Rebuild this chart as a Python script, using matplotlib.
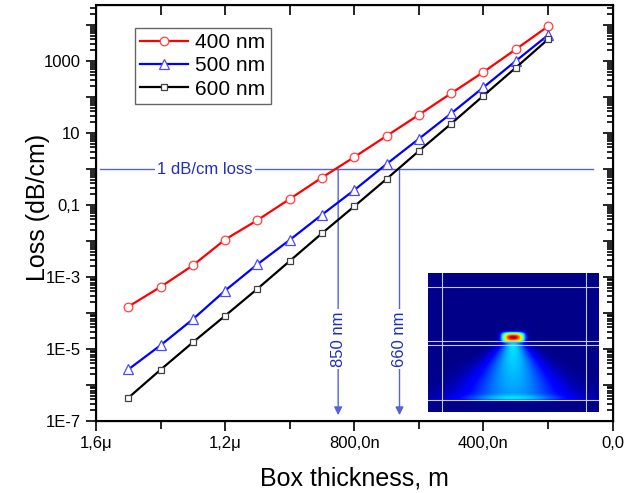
import numpy as np
import matplotlib
matplotlib.use('Agg')
import matplotlib.pyplot as plt
from matplotlib.ticker import FixedLocator, FixedFormatter, LogLocator, NullFormatter, FuncFormatter

plt.rcParams['font.family'] = ['Liberation Sans', 'DejaVu Sans']

# box thickness in nm
thickness = [1500, 1400, 1300, 1200, 1100, 1000, 900, 800, 700, 600, 500, 400, 300, 200]

loss_400 = [1.5e-4, 5.3e-4, 2.1e-3, 1.1e-2, 3.8e-2, 0.147, 0.58, 2.15, 8.3, 32, 127, 495, 2110, 9200]
loss_500 = [2.7e-6, 1.27e-5, 6.7e-5, 4.2e-4, 2.25e-3, 1.07e-2, 5.4e-2, 0.26, 1.38, 6.9, 35, 186, 1000, 5250]
loss_600 = [4.4e-7, 2.66e-6, 1.53e-5, 8.4e-5, 4.7e-4, 2.78e-3, 1.64e-2, 9.2e-2, 0.53, 3.16, 18.1, 109, 652, 4010]

x_ticks = [1600, 1200, 800, 400, 0]
x_labels = ['1,6\u03bc', '1,2\u03bc', '800,0n', '400,0n', '0,0']
y_labels = {-7: '1E-7', -5: '1E-5', -3: '1E-3', -1: '0,1', 1: '10', 3: '1000'}

loss_level = 1.0
cutoffs = [850, 660]
cutoff_labels = ['850 nm', '660 nm']

fig = plt.figure(figsize=(6.25, 4.93), dpi=100)
ax = fig.add_axes([96 / 625, 72 / 493, 516.6 / 625, 416 / 493])

ax.plot(thickness, loss_400, color='#ff0000', lw=1.6, marker='o', ms=6.2,
        mfc='white', mec='#ff4040', mew=0.9, label='400 nm')
ax.plot(thickness, loss_500, color='#0000ff', lw=1.6, marker='^', ms=7,
        mfc='white', mec='#4a4aff', mew=0.9, label='500 nm')
ax.plot(thickness, loss_600, color='#000000', lw=1.6, marker='s', ms=5,
        mfc='white', mec='#404040', mew=0.9, label='600 nm')

ax.set_yscale('log')
ax.set_xlim(1600, 0)
ax.set_ylim(1e-7, 3.6e4)

# 1 dB/cm reference line and cutoffs
line_col = '#5563d8'
text_col = '#1f2fc0'
ax.plot([1587, 62], [loss_level, loss_level], color=line_col, lw=1, zorder=1)
ax.text(1262, loss_level, '1 dB/cm loss', color=text_col, fontsize=12,
        ha='center', va='center', bbox=dict(fc='white', ec='none', pad=1.5), zorder=2)
for c, lab in zip(cutoffs, cutoff_labels):
    ax.annotate('', xy=(c, 1.45e-7), xytext=(c, loss_level),
                arrowprops=dict(arrowstyle='-|>', color=line_col, lw=1,
                                mutation_scale=12, shrinkA=0, shrinkB=0), zorder=1)
    ax.text(c, 1.9e-5, lab, color=text_col, fontsize=12, rotation=90,
            ha='center', va='center', bbox=dict(fc='white', ec='none', pad=1.5), zorder=2)

# ticks
ax.xaxis.set_major_locator(FixedLocator(x_ticks))
ax.xaxis.set_major_formatter(FixedFormatter(x_labels))
ax.xaxis.set_minor_locator(FixedLocator([1400, 1000, 600, 200]))
ax.yaxis.set_major_locator(LogLocator(base=10, numticks=20))
ax.yaxis.set_major_formatter(FuncFormatter(lambda v, p: y_labels.get(int(round(np.log10(v))), '')))
ax.yaxis.set_minor_locator(LogLocator(base=10, subs=np.arange(2, 10), numticks=20))
ax.yaxis.set_minor_formatter(NullFormatter())

ax.tick_params(which='both', direction='out', width=1.2, labelsize=12, pad=4)
ax.tick_params(which='major', length=7)
ax.tick_params(which='minor', length=4)
ax.tick_params(axis='x', which='minor', length=6)
for s in ax.spines.values():
    s.set_linewidth(1.5)

# mirrored ticks on top / right pointing inward
axt = ax.twiny()
axt.set_xlim(ax.get_xlim())
axt.xaxis.set_major_locator(FixedLocator(x_ticks))
axt.xaxis.set_minor_locator(FixedLocator([1400, 1000, 600, 200]))
axt.tick_params(which='both', direction='in', labeltop=False, width=1.2, length=7)
axr = ax.twinx()
axr.set_yscale('log')
axr.set_ylim(ax.get_ylim())
axr.yaxis.set_major_locator(LogLocator(base=10, numticks=20))
axr.yaxis.set_minor_locator(LogLocator(base=10, subs=np.arange(2, 10), numticks=20))
axr.yaxis.set_major_formatter(NullFormatter())
axr.yaxis.set_minor_formatter(NullFormatter())
axr.tick_params(which='both', direction='in', width=1.2)
axr.tick_params(which='major', length=7)
axr.tick_params(which='minor', length=4)

fig.text(354.5 / 625, 7.5 / 493, 'Box thickness, m', fontsize=18, ha='center', va='baseline')
fig.text(45 / 625, 1 - 207.5 / 493, 'Loss (dB/cm)', fontsize=18, rotation=90,
         rotation_mode='anchor', ha='center', va='baseline')

leg = ax.legend(loc='upper left', bbox_to_anchor=(0.0755, 0.9447), borderaxespad=0,
                fontsize=15, frameon=True, fancybox=False, edgecolor='#404040',
                handlelength=2.3, borderpad=0.25, labelspacing=0.2, handletextpad=0.35)
leg.get_frame().set_linewidth(1)

# inset: mode field picture
ins = fig.add_axes([428.3 / 625, (493 - 412.3) / 493, 170.7 / 625, 139 / 493])
H, W = 139, 171
yy, xx = np.mgrid[0:H, 0:W]
u = xx / (W - 1)
v = yy / (H - 1)
cx, cy = 0.498, 0.463
img = np.full((H, W), 0.01)
spot = np.exp(-(((u - cx) / 0.07) ** 4) - (((v - cy) / 0.04) ** 4))
core = np.exp(-((u - cx) / 0.045) ** 2 - ((v - cy) / 0.022) ** 2)
below = np.clip((v - 0.49) / 0.42, 0, 1)
half = 0.05 + below * 0.27
top_fade = np.clip((v - 0.47) / 0.04, 0, 1)
bot_fade = np.clip((0.93 - v) / 0.02, 0, 1)
cone = np.exp(-((u - cx) / half) ** 2) * top_fade * bot_fade
cone_int = 0.35 - 0.09 * below
img = img + cone * cone_int
# faint glow along the substrate line
img = img + 0.08 * np.exp(-((v - 0.9) / 0.02) ** 2) * np.exp(-((u - cx) / 0.3) ** 2)
img = np.maximum(img, 0.64 * spot + 0.34 * core)
ins.imshow(img, cmap='jet', vmin=0, vmax=1, aspect='auto',
           extent=(0, 1, 1, 0), interpolation='bilinear')
for yl in [0.096, 0.487, 0.518, 0.912]:
    ins.axhline(yl, color='#c8c8e8', lw=0.8)
for xl in [0.082, 0.922]:
    ins.axvline(xl, color='#c8c8e8', lw=0.8)
ins.set_xlim(0, 1)
ins.set_ylim(1, 0)
ins.set_xticks([])
ins.set_yticks([])
for s in ins.spines.values():
    s.set_visible(False)

fig.savefig('out.png', dpi=100)
